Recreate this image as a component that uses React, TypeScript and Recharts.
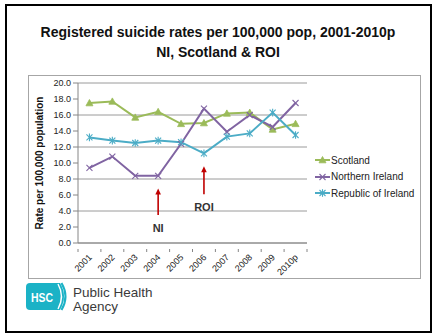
import React from "react";
import { LineChart, Line, XAxis, YAxis, CartesianGrid, Legend, ReferenceLine, ReferenceDot } from "recharts";

const years = ["2001", "2002", "2003", "2004", "2005", "2006", "2007", "2008", "2009", "2010p"];
const scotland = [17.5, 17.7, 15.7, 16.4, 14.9, 15.0, 16.2, 16.3, 14.2, 14.9];
const northernIreland = [9.4, 10.8, 8.4, 8.4, 12.4, 16.8, 13.9, 16.0, 14.5, 17.5];
const republicOfIreland = [13.2, 12.8, 12.5, 12.8, 12.6, 11.2, 13.3, 13.7, 16.3, 13.5];
const yTicks = [0, 2, 4, 6, 8, 10, 12, 14, 16, 18, 20];

// arrows pointing at the year each series changes course
const notes = [
  { year: "2004", from: 3.5, to: 6.8, text: "NI", textAt: 1.9 },
  { year: "2006", from: 6.1, to: 9.6, text: "ROI", textAt: 4.5 },
];

const series = [
  { key: "scotland", name: "Scotland", color: "#9bbb59", marker: "triangle" },
  { key: "ni", name: "Northern Ireland", color: "#8064a2", marker: "cross" },
  { key: "roi", name: "Republic of Ireland", color: "#4bacc6", marker: "star" },
];

const data = years.map((year, i) => ({
  year,
  scotland: scotland[i],
  ni: northernIreland[i],
  roi: republicOfIreland[i],
}));

const FONT = "'Liberation Sans', Arial, sans-serif";
const PLOT_W = 229;
const STEP = PLOT_W / years.length;

function Marker({ cx, cy, color, type }: { cx: number; cy: number; color: string; type: string }) {
  if (type === "triangle") {
    return <polygon points={`${cx},${cy - 3.5} ${cx + 3.5},${cy + 2.8} ${cx - 3.5},${cy + 2.8}`} fill={color} stroke={color} strokeWidth={0.8} />;
  }
  if (type === "cross") {
    return (
      <g stroke={color} strokeWidth={1.1}>
        <line x1={cx - 3} y1={cy - 3} x2={cx + 3} y2={cy + 3} />
        <line x1={cx - 3} y1={cy + 3} x2={cx + 3} y2={cy - 3} />
      </g>
    );
  }
  return (
    <g stroke={color} strokeWidth={1.1}>
      <line x1={cx - 3} y1={cy - 3} x2={cx + 3} y2={cy + 3} />
      <line x1={cx - 3} y1={cy + 3} x2={cx + 3} y2={cy - 3} />
      <line x1={cx} y1={cy - 3.8} x2={cx} y2={cy + 3.8} />
    </g>
  );
}

// category label plus Excel-style tick marks between categories
function YearTick(props: any) {
  const { x, y, payload, index } = props;
  const axisY = y - 2;
  const tx = x + 3;
  const ty = axisY + 9;
  return (
    <g>
      <line x1={x - STEP / 2} y1={axisY} x2={x - STEP / 2} y2={axisY + 3} stroke="#868686" />
      {index === years.length - 1 && (
        <line x1={x + STEP / 2} y1={axisY} x2={x + STEP / 2} y2={axisY + 3} stroke="#868686" />
      )}
      <text x={tx} y={ty} textAnchor="end" fontSize={9} fill="#222" fontFamily={FONT} transform={`rotate(-45, ${tx}, ${ty})`}>
        {payload.value}
      </text>
    </g>
  );
}

function ArrowShape(props: any) {
  const { x1, y1, x2, y2 } = props;
  const top = Math.min(y1, y2);
  const bottom = Math.max(y1, y2);
  const x = (x1 + x2) / 2;
  return (
    <g>
      <line x1={x} y1={bottom} x2={x} y2={top + 5} stroke="#c00000" strokeWidth={1.6} />
      <polygon points={`${x},${top} ${x + 2.8},${top + 6} ${x - 2.8},${top + 6}`} fill="#c00000" />
    </g>
  );
}

function LegendBox() {
  return (
    <div style={{ fontFamily: FONT, fontSize: 10, color: "#222" }}>
      {series.map((s) => (
        <div key={s.key} style={{ display: "flex", alignItems: "center", height: 16.5, whiteSpace: "nowrap" }}>
          <svg width={15} height={10} style={{ marginRight: 1 }}>
            <line x1={0} y1={5} x2={15} y2={5} stroke={s.color} strokeWidth={2} />
            <Marker cx={7.5} cy={5} color={s.color} type={s.marker} />
          </svg>
          <span>{s.name}</span>
        </div>
      ))}
    </div>
  );
}

function Logo() {
  return (
    <svg width={140} height={36} style={{ position: "absolute", left: 22, top: 279 }}>
      <path d="M8,4 H38 Q46,17 38,31 H8 Q4,31 4,27 V8 Q4,4 8,4 Z" fill="#1bb2c6" />
      <path d="M36,5 Q43,17.5 36,30" fill="none" stroke="#fff" strokeWidth={1.4} />
      <path d="M39.5,4 Q47.5,17.5 39.5,31" fill="none" stroke="#1bb2c6" strokeWidth={2} />
      <text x={9} y={23} fill="#fff" fontFamily={FONT} fontWeight="bold" fontSize={13} textLength={22} lengthAdjust="spacingAndGlyphs">
        HSC
      </text>
      <text x={51} y={18} fill="#3a3a3a" fontFamily={FONT} fontSize={13.5}>Public Health</text>
      <text x={51} y={32} fill="#3a3a3a" fontFamily={FONT} fontSize={13.5}>Agency</text>
    </svg>
  );
}

export default function App() {
  return (
    <div style={{ position: "absolute", left: 0, top: 0, width: 436, height: 334, background: "#fff", fontFamily: FONT }}>
      <div
        style={{
          position: "absolute",
          left: 5,
          top: 4,
          width: 427,
          height: 329,
          border: "2.5px solid #000",
          boxSizing: "border-box",
        }}
      />
      <div
        style={{
          position: "absolute",
          left: 0,
          top: 22,
          width: 436,
          textAlign: "center",
          fontWeight: "bold",
          fontSize: 14,
          lineHeight: "20px",
          color: "#111",
        }}
      >
        Registered suicide rates per 100,000 pop, 2001-2010p
        <br />
        NI, Scotland &amp; ROI
      </div>
      <div
        style={{
          position: "absolute",
          left: 28,
          top: 75,
          width: 393,
          height: 204,
          border: "1.5px solid #a6a6a6",
          boxSizing: "border-box",
        }}
      />
      <div style={{ position: "absolute", left: 28, top: 75 }}>
        <LineChart width={392} height={203} data={data} margin={{ top: 8, right: 113, bottom: 0, left: 0 }}>
          <CartesianGrid vertical={false} stroke="#9a9a9a" strokeWidth={1} />
          <XAxis
            dataKey="year"
            height={35}
            stroke="#868686"
            tickLine={false}
            tick={<YearTick />}
            interval={0}
            padding={{ left: STEP / 2, right: STEP / 2 }}
          />
          <YAxis
            width={50}
            domain={[0, 20]}
            ticks={yTicks}
            stroke="#868686"
            tickSize={5}
            tick={{ fontSize: 9, fill: "#222", fontFamily: FONT }}
            tickFormatter={(v: number) => v.toFixed(1)}
            label={{
              value: "Rate per 100,000 population",
              angle: -90,
              position: "center",
              dx: -14,
              style: { fontSize: 10, fontWeight: "bold", fill: "#111", fontFamily: FONT, textAnchor: "middle" },
            }}
          />
          {notes.map((n) => (
            <ReferenceLine
              key={n.text}
              segment={[
                { x: n.year, y: n.from },
                { x: n.year, y: n.to },
              ]}
              shape={<ArrowShape />}
            />
          ))}
          {notes.map((n) => (
            <ReferenceDot
              key={n.text + "-label"}
              x={n.year}
              y={n.textAt}
              r={0}
              stroke="none"
              fill="none"
              label={{
                value: n.text,
                position: "center",
                style: { fontSize: 11, fontWeight: "bold", fill: "#333", fontFamily: FONT },
              }}
            />
          ))}
          {series.map((s) => (
            <Line
              key={s.key}
              dataKey={s.key}
              name={s.name}
              stroke={s.color}
              strokeWidth={2}
              isAnimationActive={false}
              dot={(p: any) => <Marker key={`${s.key}-${p.index}`} cx={p.cx} cy={p.cy} color={s.color} type={s.marker} />}
              activeDot={false}
            />
          ))}
          <Legend
            layout="vertical"
            align="center"
            verticalAlign="middle"
            wrapperStyle={{ left: 287, top: 77, width: 105 }}
            content={<LegendBox />}
          />
        </LineChart>
      </div>
      <Logo />
    </div>
  );
}
